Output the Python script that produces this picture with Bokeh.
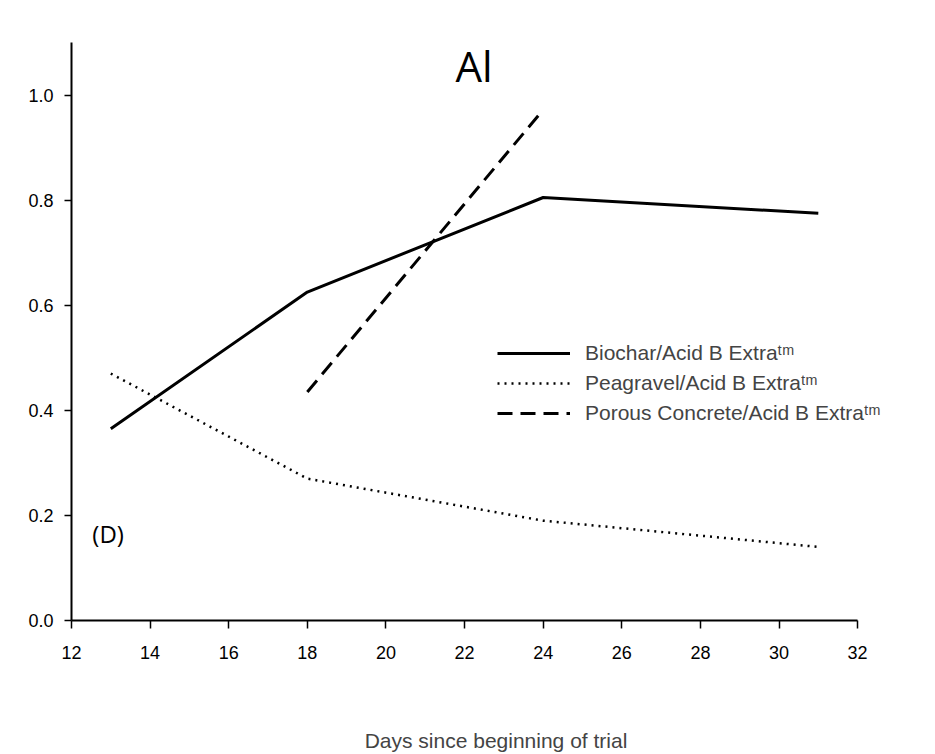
from bokeh.plotting import figure
from bokeh.models import Legend, LegendItem, Label, FixedTicker, NumeralTickFormatter, Range1d
from bokeh.embed import file_html
from bokeh.resources import INLINE

# ---- data ----
days_biochar = [13, 18, 24, 31]
al_biochar = [0.365, 0.625, 0.805, 0.775]
days_peagravel = [13, 18, 24, 31]
al_peagravel = [0.47, 0.27, 0.19, 0.14]
days_concrete = [18, 24]
al_concrete = [0.435, 0.972]
x_ticks = [12, 14, 16, 18, 20, 22, 24, 26, 28, 30, 32]
y_ticks = [0.0, 0.2, 0.4, 0.6, 0.8, 1.0]
series_labels = ["Biochar/Acid B Extra\u1d57\u1d50",
                 "Peagravel/Acid B Extra\u1d57\u1d50",
                 "Porous Concrete/Acid B Extra\u1d57\u1d50"]
title_text = "Al"
panel_text = "(D)"
x_label = "Days since beginning of trial"

p = figure(width=930, height=754, output_backend="svg", toolbar_location=None,
           x_range=Range1d(12, 33.6), y_range=Range1d(0, 1.1),
           min_border_left=71, min_border_right=10, min_border_top=42, min_border_bottom=133)
p.outline_line_color = None
p.xgrid.visible = False
p.ygrid.visible = False
p.background_fill_color = "white"
p.border_fill_color = "white"

FONT = "Liberation Sans"
for ax in (p.xaxis[0], p.yaxis[0]):
    ax.axis_line_width = 2
    ax.axis_line_color = "black"
    ax.major_tick_line_width = 1.5
    ax.major_tick_line_color = "black"
    ax.major_tick_in = 0
    ax.minor_tick_line_color = None
    ax.major_label_text_font = FONT
    ax.major_label_text_font_size = "18px"
    ax.major_label_text_color = "black"

p.xaxis[0].ticker = FixedTicker(ticks=x_ticks)
p.xaxis[0].bounds = (12, 32)
p.xaxis[0].major_tick_out = 8
p.xaxis[0].major_label_standoff = 17
p.xaxis[0].axis_label = x_label
p.xaxis[0].axis_label_text_font = FONT
p.xaxis[0].axis_label_text_font_size = "21px"
p.xaxis[0].axis_label_text_font_style = "normal"
p.xaxis[0].axis_label_standoff = 67

p.yaxis[0].ticker = FixedTicker(ticks=y_ticks)
p.yaxis[0].formatter = NumeralTickFormatter(format="0.0")
p.yaxis[0].major_tick_out = 7
p.yaxis[0].major_label_standoff = 11

r1 = p.line(days_biochar, al_biochar, line_color="black", line_width=3)
r2 = p.line(days_peagravel, al_peagravel, line_color="black", line_width=2.5, line_dash="2 5")
r3 = p.line(days_concrete, al_concrete, line_color="black", line_width=3, line_dash="15 8")

legend = Legend(items=[LegendItem(label=series_labels[0], renderers=[r1]),
                       LegendItem(label=series_labels[1], renderers=[r2]),
                       LegendItem(label=series_labels[2], renderers=[r3])],
                location=(426, 195), padding=0, margin=0, spacing=6,
                glyph_width=73, glyph_height=20, label_height=20, label_standoff=15,
                label_text_font=FONT, label_text_font_size="21px",
                border_line_color=None, background_fill_alpha=0)
p.add_layout(legend)

p.add_layout(Label(x=22.24, y=1.057, text=title_text, text_font="Open Sans",
                   text_font_size="42px", text_align="center", text_baseline="middle",
                   text_color="black"))
p.add_layout(Label(x=12.53, y=0.165, text=panel_text, text_font="Open Sans",
                   text_font_size="24px", text_align="left", text_baseline="middle",
                   text_color="black"))

open("out.html", "w").write(file_html(p, INLINE))
